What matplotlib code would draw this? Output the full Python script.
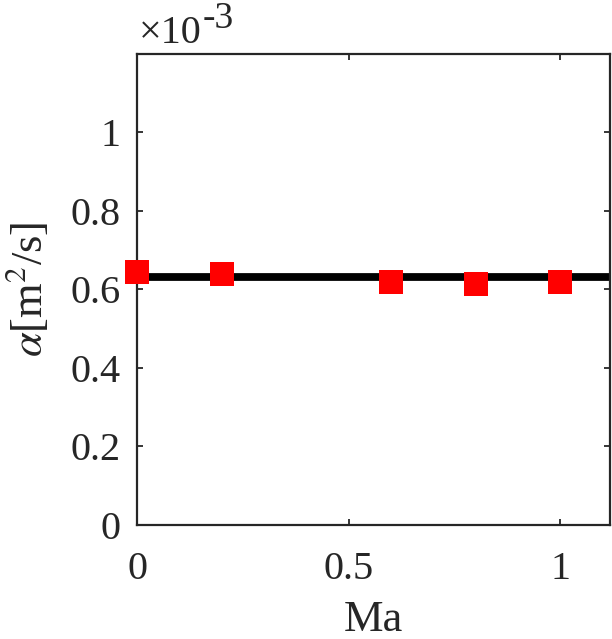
import numpy as np
import matplotlib
matplotlib.use('Agg')
import matplotlib.pyplot as plt
from matplotlib.ticker import FuncFormatter

# data (alpha in m^2/s)
ma = [0, 0.2, 0.6, 0.8, 1.0]
alpha = [0.645e-3, 0.640e-3, 0.619e-3, 0.614e-3, 0.618e-3]
alpha_ref = 0.631e-3

xticks = [0, 0.5, 1]
yticks = [0, 0.2e-3, 0.4e-3, 0.6e-3, 0.8e-3, 1.0e-3]

plt.rcParams['font.family'] = 'Liberation Serif'
plt.rcParams['mathtext.fontset'] = 'stix'
dark = '#262626'

fig = plt.figure(figsize=(6.12, 6.39), dpi=100)
ax = fig.add_axes([0.2244, 0.1784, 0.9967 - 0.2244, 0.9161 - 0.1784])

ax.axhline(alpha_ref, color='black', linewidth=5.6, zorder=2)
ax.plot(ma, alpha, 's', color='red', markersize=17, markeredgewidth=0, zorder=3, clip_on=False)

ax.set_xlim(0, 1.118)
ax.set_ylim(0, 1.2e-3)
ax.set_xticks(xticks)
ax.set_yticks(yticks)

def fmt(v, pos):
    return '%g' % v
def fmty(v, pos):
    return '%g' % round(v * 1e3, 6)
ax.xaxis.set_major_formatter(FuncFormatter(fmt))
ax.yaxis.set_major_formatter(FuncFormatter(fmty))

ax.tick_params(direction='in', length=4, width=1.3, color=dark, labelcolor=dark,
               labelsize=29, top=True, right=True)
ax.tick_params(axis='x', pad=19)
ax.tick_params(axis='y', pad=12)
for s in ax.spines.values():
    s.set_color(dark)
    s.set_linewidth(1.6)

ax.set_xlabel('Ma', fontsize=32, color=dark, labelpad=8)
ax.set_ylabel(r'$\alpha$[m$^2$/s]', fontsize=32, color=dark, labelpad=14)

# exponent label, MATLAB style
fig.text(139 / 612, 1 - 43 / 639, '\u00d710', fontsize=29, color=dark,
         ha='left', va='baseline')
fig.text(203 / 612, 1 - 28 / 639, '-3', fontsize=27, color=dark,
         ha='left', va='baseline')

fig.savefig('out.png', dpi=100)
